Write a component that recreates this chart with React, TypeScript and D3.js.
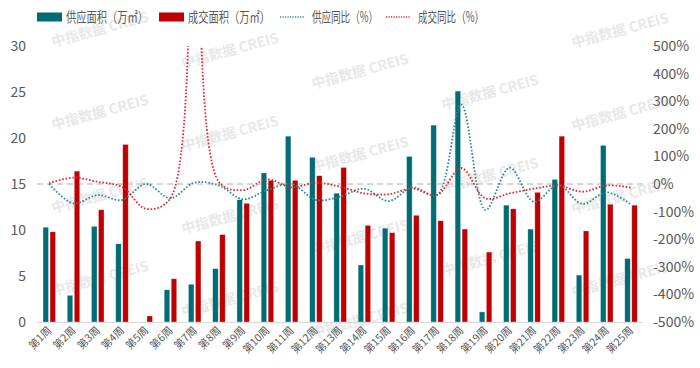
import React, { useRef, useEffect } from 'react';
import * as d3 from 'd3';

const weeks = ['第1周', '第2周', '第3周', '第4周', '第5周', '第6周', '第7周', '第8周', '第9周', '第10周', '第11周', '第12周', '第13周',
    '第14周', '第15周', '第16周', '第17周', '第18周', '第19周', '第20周', '第21周', '第22周', '第23周', '第24周', '第25周'];
// 万㎡
const supplyArea = [10.3, 2.9, 10.4, 8.5, 0, 3.5, 4.1, 5.8, 13.3, 16.2, 20.2, 17.9, 14.0, 6.2, 10.2, 18.0, 21.4, 25.1, 1.1, 12.7, 10.1, 15.5, 5.1, 19.2, 6.9];
const dealArea = [9.8, 16.4, 12.2, 19.3, 0.65, 4.7, 8.8, 9.5, 12.9, 15.4, 15.4, 15.9, 16.8, 10.5, 9.7, 11.6, 11.0, 10.1, 7.6, 12.3, 14.1, 20.2, 9.9, 12.8, 12.7];
// %
const supplyYoY = [0, -70, -40, -58, 0, -52, 5, -5, -55, -22, 0, -58, -46, -17, -62, -12, -40, 288, -94, 59, -64, -4, -72, -30, -74];
const dealYoY = [3, 23, 8, -10, -90, -52, 1560, 8, -22, 17, -12, 5, -10, -34, -37, -17, -40, 58, -52, -34, -17, -6, -28, -5, -13];

const leftTicks = [0, 5, 10, 15, 20, 25, 30];
const rightTicks = [-500, -400, -300, -200, -100, 0, 100, 200, 300, 400, 500];

const legendItems = [
    { label: '供应面积（万㎡）', kind: 'bar', color: '#006d75' },
    { label: '成交面积（万㎡）', kind: 'bar', color: '#c00000' },
    { label: '供应同比（%）', kind: 'line', color: '#2a8a94' },
    { label: '成交同比（%）', kind: 'line', color: '#e0282a' },
];

function App() {
    const ref = useRef(null);

    useEffect(() => {
        const svg = d3.select(ref.current);
        svg.selectAll('*').remove();

        const W = 700, H = 368;
        const plot = { left: 37, right: 643, top: 46, bottom: 322 };
        const font = '"Noto Sans CJK SC", "Noto Sans", sans-serif';
        const grey = '#595959';

        const x = d3.scaleBand().domain(weeks).range([plot.left, plot.right]);
        const y = d3.scaleLinear().domain([0, 30]).range([plot.bottom, plot.top]);
        const yR = d3.scaleLinear().domain([-500, 500]).range([plot.bottom, plot.top]);
        const cx = (i) => x(weeks[i]) + x.bandwidth() / 2;

        svg.attr('width', W).attr('height', H);
        svg.append('rect').attr('width', W).attr('height', H).attr('fill', '#fff');

        // watermark
        const marks = [];
        [53, 183, 313, 443, 573].forEach((mx, c) => {
            for (let r = -1; r < 5; r++) {
                const my = 42 + c * 21 + r * 83;
                if (my > 24 && my < 340) marks.push([mx, my]);
            }
        });
        svg.append('g').selectAll('text').data(marks).join('text')
            .attr('transform', d => `translate(${d[0]},${d[1] + 5}) rotate(-15)`)
            .attr('font-family', font).attr('font-size', 14).attr('font-weight', 'bold')
            .attr('fill', '#e8e8e8')
            .text('中指数据  CREIS');

        // zero line of right axis
        svg.append('line')
            .attr('x1', plot.left).attr('x2', plot.right)
            .attr('y1', yR(0)).attr('y2', yR(0))
            .attr('stroke', '#c8c8c8').attr('stroke-width', 1.3).attr('stroke-dasharray', '6,4');

        // x axis line
        svg.append('line')
            .attr('x1', plot.left).attr('x2', plot.right)
            .attr('y1', plot.bottom + 0.5).attr('y2', plot.bottom + 0.5)
            .attr('stroke', '#d9d9d9');

        const bw = 5.5;
        svg.append('g').selectAll('rect').data(supplyArea).join('rect')
            .attr('x', (d, i) => cx(i) - bw - 0.6)
            .attr('width', bw)
            .attr('y', d => y(d))
            .attr('height', d => y(0) - y(d))
            .attr('fill', '#006d75')
            .attr('stroke', '#ffffff').attr('stroke-opacity', 0.5).attr('stroke-width', 0.6);

        svg.append('g').selectAll('rect').data(dealArea).join('rect')
            .attr('x', (d, i) => cx(i) + 0.9)
            .attr('width', bw)
            .attr('y', d => y(d))
            .attr('height', d => y(0) - y(d))
            .attr('fill', '#c00000')
            .attr('stroke', '#ffffff').attr('stroke-opacity', 0.5).attr('stroke-width', 0.6);

        // lines
        svg.append('clipPath').attr('id', 'plotclip')
            .append('rect')
            .attr('x', plot.left).attr('y', plot.top)
            .attr('width', plot.right - plot.left).attr('height', plot.bottom - plot.top);

        const line = d3.line()
            .x((d, i) => cx(i))
            .y(d => yR(d))
            .curve(d3.curveCatmullRom.alpha(0.5));

        const lines = svg.append('g').attr('clip-path', 'url(#plotclip)');
        lines.append('path').attr('d', line(supplyYoY))
            .attr('fill', 'none').attr('stroke', '#2a8a94')
            .attr('stroke-width', 1.8).attr('stroke-dasharray', '1.6,1.8');
        lines.append('path').attr('d', line(dealYoY))
            .attr('fill', 'none').attr('stroke', '#e0282a')
            .attr('stroke-width', 1.8).attr('stroke-dasharray', '1.6,1.8');

        // left axis labels
        svg.append('g').selectAll('text').data(leftTicks).join('text')
            .attr('x', 26).attr('y', d => y(d) + 5)
            .attr('text-anchor', 'end')
            .attr('font-family', font).attr('font-size', 14).attr('fill', grey)
            .text(d => d);

        // right axis labels
        svg.append('g').selectAll('text').data(rightTicks).join('text')
            .attr('x', 653).attr('y', d => yR(d) + 5)
            .attr('font-family', font).attr('font-size', 14).attr('fill', grey)
            .text(d => `${d}%`);

        // category labels
        svg.append('g').selectAll('text').data(weeks).join('text')
            .attr('transform', (d, i) => `translate(${cx(i) + 3},${plot.bottom + 9}) rotate(-45)`)
            .attr('text-anchor', 'end')
            .attr('font-family', font).attr('font-size', 10.5).attr('fill', grey)
            .text(d => d);

        // legend
        const legendX = [37, 159, 280, 386];
        const lg = svg.append('g');
        legendItems.forEach((item, i) => {
            const g = lg.append('g').attr('transform', `translate(${legendX[i]},17)`);
            if (item.kind === 'bar') {
                g.append('rect').attr('x', 0).attr('y', -4.5).attr('width', 25).attr('height', 9).attr('fill', item.color);
            } else {
                g.append('line').attr('x1', 0).attr('x2', 24).attr('y1', 0).attr('y2', 0)
                    .attr('stroke', item.color).attr('stroke-width', 1.5).attr('stroke-dasharray', '1.2,1.3');
            }
            g.append('text')
                .attr('x', item.kind === 'bar' ? 29 : 32).attr('y', 5)
                .attr('font-family', font).attr('font-size', 14).attr('fill', grey)
                .attr('textLength', item.kind === 'bar' ? 82 : 66)
                .attr('lengthAdjust', 'spacingAndGlyphs')
                .text(item.label);
        });
    }, []);

    return (
        <div style={{ position: 'absolute', left: 0, top: 0 }}>
            <svg ref={ref} width={700} height={368}></svg>
        </div>
    );
}

export default App;
